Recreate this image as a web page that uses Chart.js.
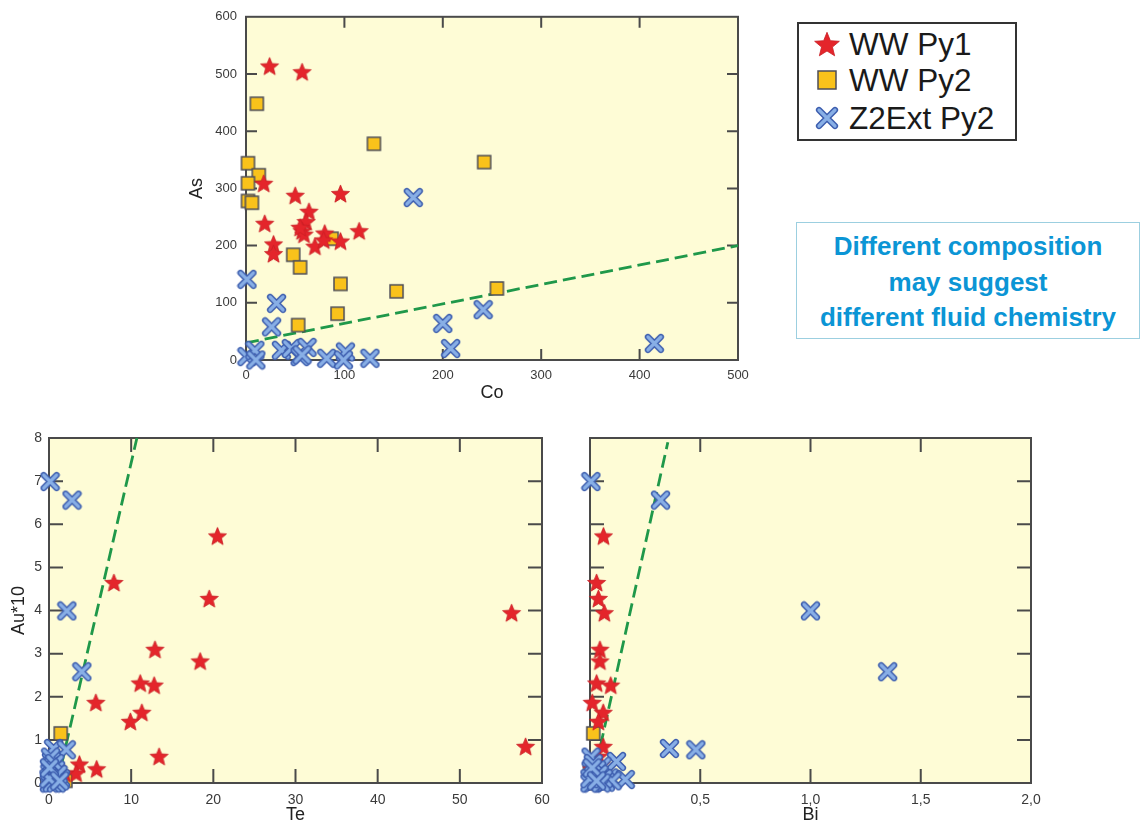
<!DOCTYPE html>
<html><head><meta charset="utf-8">
<script src="https://cdn.jsdelivr.net/npm/chart.js@4/dist/chart.umd.min.js"></script>
<style>
html,body{margin:0;padding:0;background:#fff;width:1141px;height:825px;overflow:hidden;font-family:"Liberation Sans",Arial,sans-serif}
canvas.ch{position:absolute}
#legend{position:absolute;left:797px;top:22px;width:216px;height:115px;border:2px solid #333;background:#fff}
.li{position:absolute;left:0;height:36px;width:216px}
.li canvas{position:absolute;top:50%;transform:translate(-50%,-50%)}
.li span{position:absolute;left:50px;top:0;line-height:36px;font-size:31.5px;color:#1a1a1a;white-space:nowrap}
#note{position:absolute;left:796px;top:222px;width:342px;height:115px;border:1.5px solid #9ccfe0;background:#fff;text-align:center;color:#0b95d5;font-weight:bold;font-size:26px;line-height:35.5px;box-sizing:content-box}
#note div{padding-top:6px}
</style></head>
<body>
<canvas id="cTop" class="ch" width="580" height="405" style="left:180px;top:0px"></canvas>
<canvas id="cTe" class="ch" width="560" height="405" style="left:0px;top:420px"></canvas>
<canvas id="cBi" class="ch" width="581" height="405" style="left:560px;top:420px"></canvas>
<div id="legend"></div>
<div id="note"><div>Different composition<br>may suggest<br>different fluid chemistry</div></div>
<script>
// ---------- DATA ----------
const seriesNames = ["WW Py1", "WW Py2", "Z2Ext Py2"];

// Top chart: Co vs As
const coPy1 = [24, 57, 18, 50, 96, 64, 61, 19, 57, 59, 115, 80, 28, 28, 70, 79, 96, 55];
const asPy1 = [514, 504, 309, 288, 291, 260, 242, 239, 226, 220, 226, 222, 203, 186, 199, 210, 208, 232];
const coPy2 = [11, 130, 242, 2, 13, 2, 2, 6, 87, 48, 55, 96, 153, 255, 93, 53];
const asPy2 = [448, 378, 346, 344, 323, 309, 278, 275, 212, 184, 162, 133, 120, 125, 81, 61];
const coZ2 = [170, 1, 31, 26, 241, 200, 208, 415, 1, 9, 10, 36, 46, 55, 62, 82, 101, 99, 126, 57];
const asZ2 = [284, 141, 99, 58, 88, 64, 20, 29, 6, 17, 0, 17, 20, 6, 22, 3, 14, 0, 3, 9];
const trendCoAs = [{x: 0, y: 30}, {x: 500, y: 200}];

// Bottom charts: Au*10 vs Te and Bi (same samples)
const auPy1 = [5.73, 4.65, 4.28, 3.95, 3.10, 2.83, 2.32, 2.27, 1.87, 1.64, 1.43, 0.85, 0.62, 0.44, 0.33, 0.23, 0.23, 0.10];
const tePy1 = [20.5, 7.9, 19.5, 56.3, 12.9, 18.4, 11.1, 12.8, 5.7, 11.3, 9.9, 58.0, 13.4, 3.7, 5.8, 3.3, 1.9, 1.0];
const biPy1 = [0.061, 0.030, 0.038, 0.065, 0.045, 0.045, 0.030, 0.094, 0.010, 0.060, 0.038, 0.060, 0.038, 0.050, 0.008, 0.030, 0.020, 0.010];
const auPy2 = [1.15, 0.30, 0.05, 0.00, 0.00];
const tePy2 = [1.43, 0.20, 2.00, 0.50, 1.20];
const biPy2 = [0.015, 0.000, 0.010, 0.020, 0.030];
const auZ2 = [6.99, 6.56, 3.99, 2.58, 0.80, 0.77, 0.50, 0.39, 0.23, 0.12, 0.08, 0.04, 0.00, 0.02, 0.60, 0.30, 0.15, 0.05, 0.00, 0.10, 0.45, 0.20, 0.00, 0.10, 0.35, 0.05];
const teZ2 = [0.13, 2.80, 2.17, 4.00, 0.56, 2.10, 0.30, 0.35, 0.10, 0.50, 1.00, 0.20, 0.05, 0.60, 0.20, 0.80, 0.30, 0.90, 0.40, 1.40, 0.70, 1.10, 0.90, 0.00, 0.05, 1.30];
const biZ2 = [0.004, 0.32, 1.00, 1.35, 0.36, 0.48, 0.12, 0.054, 0.03, 0.087, 0.16, 0.02, 0.01, 0.07, 0.005, 0.03, 0.02, 0.10, 0.00, 0.06, 0.015, 0.04, 0.05, 0.00, 0.01, 0.03];
const trendTeAu = [{x: 1.0, y: 0}, {x: 10.7, y: 8}];
const trendBiAu = [{x: 0.01, y: 0}, {x: 0.353, y: 7.9}];

// ---------- MARKERS ----------
function starCanvas(R){
  const s = Math.ceil(R*2+4), c = document.createElement('canvas'); c.width = c.height = s;
  const g = c.getContext('2d'); g.translate(s/2, s/2 + R*0.1);
  g.beginPath();
  for(let i=0;i<10;i++){const r = i%2 ? R*0.44 : R; const a = -Math.PI/2 + i*Math.PI/5; g.lineTo(r*Math.cos(a), r*Math.sin(a));}
  g.closePath(); g.fillStyle = '#e4252b'; g.fill(); g.strokeStyle = '#c81e24'; g.lineWidth = 0.8; g.stroke();
  return c;
}
function squareCanvas(a){
  const s = Math.ceil(a+4), c = document.createElement('canvas'); c.width = c.height = s;
  const g = c.getContext('2d'); const o = (s-a)/2;
  g.fillStyle = '#f9c21b'; g.fillRect(o,o,a,a); g.strokeStyle = '#4d4d58'; g.lineWidth = 1.5; g.strokeRect(o,o,a,a);
  return c;
}
function xCanvas(h){
  const s = Math.ceil(h*2+8), c = document.createElement('canvas'); c.width = c.height = s;
  const g = c.getContext('2d'); g.translate(s/2, s/2); g.lineCap = 'round';
  const path = () => {g.beginPath(); g.moveTo(-h,-h); g.lineTo(h,h); g.moveTo(h,-h); g.lineTo(-h,h);};
  path(); g.strokeStyle = '#3c5dae'; g.lineWidth = 6.2; g.stroke();
  path(); g.strokeStyle = '#88afe6'; g.lineWidth = 3.2; g.stroke();
  return c;
}
const mkStar = starCanvas(9.5), mkSq = squareCanvas(13), mkX = xCanvas(6.5);

// ---------- PLUGIN: background, frame, inward ticks ----------
const framePlugin = {
  id: 'frame',
  beforeDatasetsDraw(chart, args, opts){
    const {ctx, chartArea: a, scales: {x, y}} = chart;
    ctx.save();
    ctx.fillStyle = '#fefcd6'; ctx.fillRect(a.left, a.top, a.width, a.height);
    ctx.strokeStyle = '#4a4a4a'; ctx.lineWidth = 2;
    const L = opts.tick || 11;
    ctx.beginPath();
    x.ticks.forEach(t => { if (t.value <= x.min + 1e-9 || t.value >= x.max - 1e-9) return;
      const p = x.getPixelForValue(t.value); ctx.moveTo(p, a.bottom); ctx.lineTo(p, a.bottom - L); ctx.moveTo(p, a.top); ctx.lineTo(p, a.top + L); });
    y.ticks.forEach(t => { if (t.value <= y.min + 1e-9 || t.value >= y.max - 1e-9) return;
      const p = y.getPixelForValue(t.value); ctx.moveTo(a.left, p); ctx.lineTo(a.left + L, p); ctx.moveTo(a.right, p); ctx.lineTo(a.right - L, p); });
    ctx.stroke();
    ctx.strokeRect(a.left, a.top, a.width, a.height);
    ctx.restore();
  }
};

const zip = (xs, ys) => xs.map((v, i) => ({x: v, y: ys[i]}));

function makeChart(id, cfg){
  const ds = [
    {label: seriesNames[2], data: zip(cfg.xZ2, cfg.yZ2), pointStyle: mkX, pointRadius: 7, order: 1, clip: false},
    {label: seriesNames[0], data: zip(cfg.xPy1, cfg.yPy1), pointStyle: mkStar, pointRadius: 9, order: 2, clip: false},
    {label: seriesNames[1], data: zip(cfg.xPy2, cfg.yPy2), pointStyle: mkSq, pointRadius: 7, order: 3, clip: false},
    {type: 'line', label: 'trend', data: cfg.trend, showLine: true, pointRadius: 0, borderColor: '#1f984a', borderWidth: 2.8, borderDash: [13, 6], fill: false, order: 4}
  ];
  const tf = {family: '"Liberation Sans", Arial, sans-serif', size: cfg.tickSize};
  return new Chart(document.getElementById(id), {
    type: 'scatter',
    data: {datasets: ds},
    options: {
      responsive: false, animation: false, devicePixelRatio: 1,
      layout: {padding: cfg.pad},
      plugins: {legend: {display: false}, tooltip: {enabled: false}, frame: {tick: cfg.tickLen}},
      scales: {
        x: {type: 'linear', min: cfg.xmin, max: cfg.xmax,
            grid: {display: false, drawTicks: false}, border: {display: false},
            ticks: {stepSize: cfg.xstep, color: '#3a3a3a', font: tf, padding: cfg.xPad, maxRotation: 0, callback: cfg.xcb},
            title: {display: true, text: cfg.xTitle, color: '#222', font: {family: '"Liberation Sans", Arial, sans-serif', size: 18}, padding: {top: 0, bottom: cfg.xTitlePad}},
            afterFit: s => { s.height = cfg.xH; }},
        y: {type: 'linear', min: cfg.ymin, max: cfg.ymax,
            grid: {display: false, drawTicks: false}, border: {display: false},
            ticks: {stepSize: cfg.ystep, color: '#3a3a3a', font: tf, padding: cfg.yPad, display: cfg.yLabels},
            title: {display: !!cfg.yTitle, text: cfg.yTitle, color: '#222', font: {family: '"Liberation Sans", Arial, sans-serif', size: 18}, padding: {top: cfg.yTitlePad, bottom: 0}},
            afterFit: s => { s.width = cfg.yW; }}
      }
    },
    plugins: [framePlugin]
  });
}

makeChart('cTop', {
  xPy1: coPy1, yPy1: asPy1, xPy2: coPy2, yPy2: asPy2, xZ2: coZ2, yZ2: asZ2, trend: trendCoAs,
  xmin: 0, xmax: 500, xstep: 100, ymin: 0, ymax: 600, ystep: 100,
  pad: {left: 0, right: 22, top: 16, bottom: 0}, yW: 66, xH: 45, xPad: 8, yPad: 9,
  xTitle: 'Co', yTitle: 'As', xTitlePad: 1, yTitlePad: 6, tickSize: 13, tickLen: 11, yLabels: true
});
makeChart('cTe', {
  xPy1: tePy1, yPy1: auPy1, xPy2: tePy2, yPy2: auPy2, xZ2: teZ2, yZ2: auZ2, trend: trendTeAu,
  xmin: 0, xmax: 60, xstep: 10, ymin: 0, ymax: 8, ystep: 1,
  pad: {left: 0, right: 18, top: 18, bottom: 0}, yW: 49, xH: 42, xPad: 9, yPad: 7,
  xTitle: 'Te', yTitle: 'Au*10', xTitlePad: -1, yTitlePad: 8, tickSize: 14, tickLen: 14, yLabels: true
});
makeChart('cBi', {
  xPy1: biPy1, yPy1: auPy1, xPy2: biPy2, yPy2: auPy2, xZ2: biZ2, yZ2: auZ2, trend: trendBiAu,
  xmin: 0, xmax: 2, xstep: 0.5, ymin: 0, ymax: 8, ystep: 1,
  pad: {left: 0, right: 110, top: 18, bottom: 0}, yW: 30, xH: 42, xPad: 9, yPad: 7,
  xTitle: 'Bi', yTitle: '', xTitlePad: -1, yTitlePad: 0, tickSize: 14, tickLen: 14, yLabels: false,
  xcb: v => v === 0 ? '' : v.toFixed(1).replace('.', ',')
});

// ---------- LEGEND ----------
const legend = document.getElementById('legend');
const legMarkers = [starCanvas(13), squareCanvas(18), xCanvas(8)];
const legCenters = [22, 58, 96];
seriesNames.forEach((n, i) => {
  const row = document.createElement('div'); row.className = 'li'; row.style.top = (legCenters[i] - 18 - 2) + 'px';
  const m = legMarkers[i]; m.style.left = '28px'; row.appendChild(m);
  const sp = document.createElement('span'); sp.textContent = n; row.appendChild(sp);
  legend.appendChild(row);
});
</script>
</body></html>
